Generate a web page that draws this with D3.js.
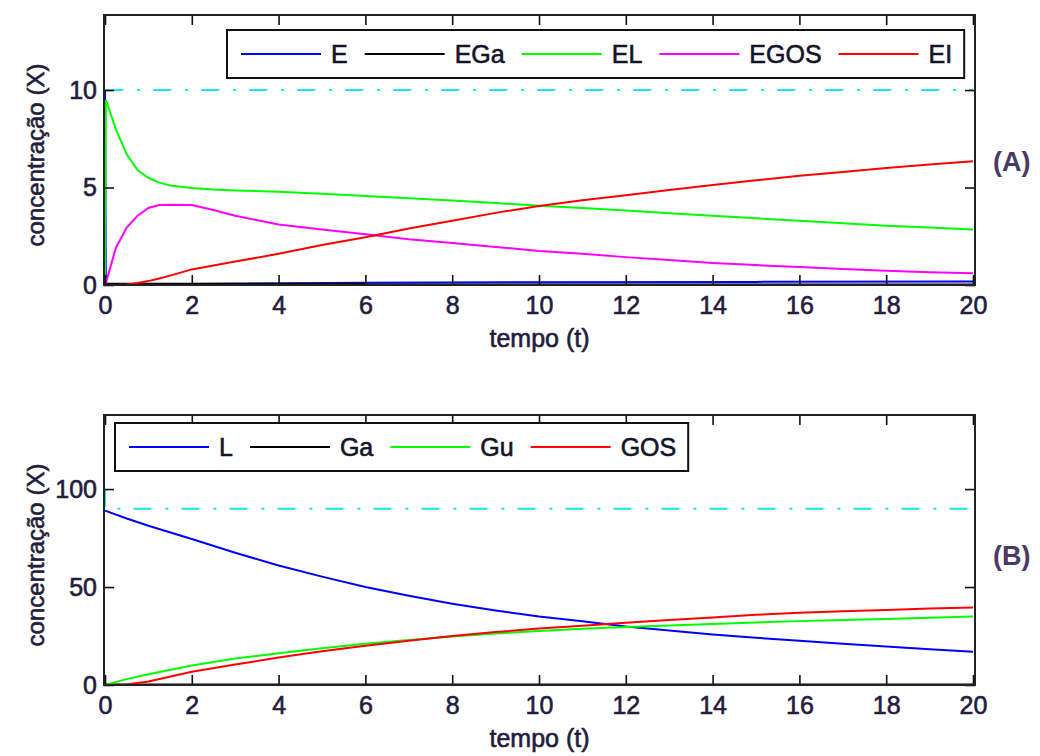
<!DOCTYPE html>
<html>
<head>
<meta charset="utf-8">
<script src="https://cdn.jsdelivr.net/npm/d3@7/dist/d3.min.js"></script>
<style>
  body { margin: 0; background: #fff; }
  text { font-family: "Liberation Sans", Arial, sans-serif; }
</style>
</head>
<body>
<svg id="chart" width="1040" height="756"></svg>
<script>
// ---- panel (A): enzyme complexes ----
const tA = [0, 0.02, 0.25, 0.5, 0.75, 1, 1.25, 1.5, 2, 2.5, 3, 4, 5, 6, 7, 8, 9, 10, 11, 12, 13, 14, 15, 16, 17, 18, 19, 20]
const EL = [0, 9.5, 8.0, 6.7, 5.9, 5.5, 5.25, 5.1, 4.98, 4.9, 4.85, 4.78, 4.68, 4.56, 4.45, 4.33, 4.2, 4.07, 3.95, 3.82, 3.68, 3.55, 3.42, 3.3, 3.17, 3.04, 2.95, 2.85]
const EGOS = [0, 0.1, 1.9, 2.95, 3.55, 3.95, 4.1, 4.12, 4.1, 3.85, 3.55, 3.1, 2.85, 2.6, 2.35, 2.15, 1.95, 1.75, 1.6, 1.43, 1.28, 1.13, 1.02, 0.92, 0.82, 0.73, 0.66, 0.6]
const EI = [0, 0, 0, 0.03, 0.1, 0.2, 0.33, 0.48, 0.8, 1.0, 1.2, 1.6, 2.05, 2.45, 2.9, 3.3, 3.7, 4.05, 4.35, 4.6, 4.87, 5.13, 5.37, 5.6, 5.8, 6.0, 6.18, 6.35]
const tE = [0, 0.02, 2, 6, 10, 15, 20]
const E = [10, 0.03, 0.05, 0.12, 0.14, 0.16, 0.18]
const tEGa = [0, 6, 6.01, 20]
const EGa = [0.06, 0.06, 0.02, 0.02]
const tRefA = [0, 20]
const refA = [10, 10]

// ---- panel (B): sugars ----
const tB = [0, 0.5, 1, 2, 3, 4, 5, 6, 7, 8, 9, 10, 11, 12, 13, 14, 15, 16, 17, 18, 19, 20]
const L = [89, 85, 81.3, 74.5, 67.5, 61, 55.3, 50, 45.5, 41.5, 38, 35, 32.5, 29.8, 27.8, 25.8, 24.1, 22.6, 21.1, 19.7, 18.3, 17]
const Gu = [0, 3, 5.5, 10, 13.5, 16.2, 18.8, 21, 23, 24.8, 26.3, 27.6, 28.7, 29.6, 30.4, 31.1, 31.9, 32.6, 33.2, 33.7, 34.3, 34.9]
const GOS = [0, 0.3, 1.8, 6.8, 10.5, 14, 17.2, 20, 22.6, 25, 27, 28.8, 30.3, 31.8, 33.2, 34.5, 35.8, 36.9, 37.6, 38.3, 39, 39.6]
const tGa = [0, 20]
const Ga = [0.3, 0.3]
const tRefB = [0, 0, 20]
const refB = [100, 90, 90]

const xTicks = [0, 2, 4, 6, 8, 10, 12, 14, 16, 18, 20]
const yTicksA = [0, 5, 10]
const yTicksB = [0, 50, 100]

const zip = (t, v) => t.map((d, i) => [d, v[i]])

const panels = [
    {
        top: 15, bottom: 285, yMax: 13.85, yTicks: yTicksA, tag: "(A)", tagY: 162,
        legend: { x: 227, y: 30 }, ref: zip(tRefA, refA),
        series: [
            { name: "E", color: "#0000ff", data: zip(tE, E) },
            { name: "EGa", color: "#000000", data: zip(tEGa, EGa) },
            { name: "EL", color: "#00ff00", data: zip(tA, EL) },
            { name: "EGOS", color: "#ff00ff", data: zip(tA, EGOS) },
            { name: "EI", color: "#ff0000", data: zip(tA, EI) }
        ]
    },
    {
        top: 415, bottom: 685, yMax: 137.8, yTicks: yTicksB, tag: "(B)", tagY: 556,
        legend: { x: 115, y: 423 }, ref: zip(tRefB, refB),
        series: [
            { name: "L", color: "#0000ff", data: zip(tB, L) },
            { name: "Ga", color: "#000000", data: zip(tGa, Ga) },
            { name: "Gu", color: "#00ff00", data: zip(tB, Gu) },
            { name: "GOS", color: "#ff0000", data: zip(tB, GOS) }
        ]
    }
]

const left = 104, right = 975
const textColor = "#241c3c"
const svg = d3.select("#chart")

// text a bit heavier, like the blurred original
const heavy = (sel, c) => sel.attr("fill", c).attr("stroke", c).attr("stroke-width", 0.6)

panels.forEach((p, pi) => {
    const x = d3.scaleLinear().domain([0, 20]).range([left + 1, right - 2])
    const y = d3.scaleLinear().domain([0, p.yMax]).range([p.bottom, p.top])

    const g = svg.append("g")
    const clipId = "clip" + pi
    g.append("clipPath").attr("id", clipId)
        .append("rect")
        .attr("x", left).attr("y", p.top)
        .attr("width", right - left).attr("height", p.bottom - p.top)

    const line = d3.line().x(d => x(d[0])).y(d => y(d[1]))
    const plot = g.append("g").attr("clip-path", `url(#${clipId})`)

    p.series.forEach(s => {
        plot.append("path")
            .datum(s.data)
            .attr("d", line)
            .attr("fill", "none")
            .attr("stroke", s.color)
            .attr("stroke-width", 2)
    })

    plot.append("path")
        .datum(p.ref)
        .attr("d", line)
        .attr("fill", "none")
        .attr("stroke", "#19e6f2")
        .attr("stroke-width", 2)
        .attr("stroke-dasharray", "18,14,3,13")

    // axes with inward ticks
    const styleAxis = a => {
        a.select(".domain").remove()
        a.selectAll(".tick line").attr("stroke", "#111").attr("stroke-width", 1.6)
        a.selectAll(".tick text").call(heavy, textColor).style("font-size", "25px")
    }
    g.append("g").attr("transform", `translate(0,${p.bottom})`)
        .call(d3.axisBottom(x).tickValues(xTicks).tickSize(-10).tickPadding(11).tickFormat(d3.format("d")))
        .call(styleAxis)
    g.append("g").attr("transform", `translate(0,${p.top})`)
        .call(d3.axisTop(x).tickValues(xTicks).tickSize(-10).tickFormat(""))
        .call(styleAxis)
    g.append("g").attr("transform", `translate(${left},0)`)
        .call(d3.axisLeft(y).tickValues(p.yTicks).tickSize(-10).tickPadding(7).tickFormat(d3.format("d")))
        .call(styleAxis)
    g.append("g").attr("transform", `translate(${right},0)`)
        .call(d3.axisRight(y).tickValues(p.yTicks).tickSize(-10).tickFormat(""))
        .call(styleAxis)

    g.append("rect")
        .attr("x", left).attr("y", p.top)
        .attr("width", right - left).attr("height", p.bottom - p.top)
        .attr("fill", "none").attr("stroke", "#222").attr("stroke-width", 2)

    // labels
    g.append("text")
        .attr("x", (left + right) / 2).attr("y", p.bottom + 62)
        .attr("text-anchor", "middle")
        .call(heavy, textColor).style("font-size", "25px")
        .text("tempo (t)")
    g.append("text")
        .attr("transform", `translate(36,${(p.top + p.bottom) / 2 + 5}) rotate(-90)`)
        .attr("text-anchor", "middle").attr("dy", "0.35em")
        .call(heavy, textColor).style("font-size", "24px")
        .text("concentração (X)")
    g.append("text")
        .attr("x", 993).attr("y", p.tagY).attr("dy", "0.35em")
        .attr("fill", "#4b3a66").style("font-size", "27px").style("font-weight", "bold")
        .text(p.tag)

    // legend
    const lg = g.append("g").attr("transform", `translate(${p.legend.x},${p.legend.y})`)
    const box = lg.append("rect").attr("height", 48)
        .attr("fill", "#fff").attr("stroke", "#111").attr("stroke-width", 2)
    let cx = 14
    p.series.forEach(s => {
        lg.append("line")
            .attr("x1", cx).attr("x2", cx + 80).attr("y1", 24).attr("y2", 24)
            .attr("stroke", s.color).attr("stroke-width", 2)
        const t = lg.append("text")
            .attr("x", cx + 90).attr("y", 24).attr("dy", "0.35em")
            .call(heavy, "#141428").style("font-size", "25px")
            .text(s.name)
        cx += 90 + t.node().getComputedTextLength() + 17
    })
    box.attr("width", cx - 17 + 12)
})
</script>
</body>
</html>
